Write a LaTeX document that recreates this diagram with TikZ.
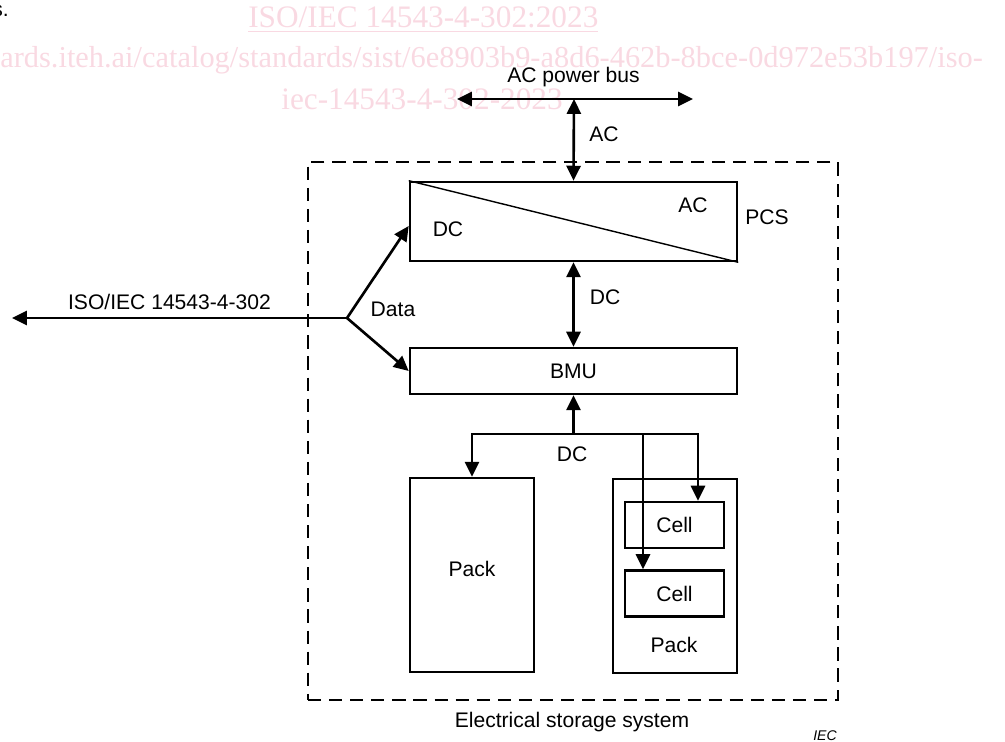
\documentclass[tikz,border=0pt]{standalone}
\usepackage{fontspec}
\setsansfont{Liberation Sans}
\newfontfamily\wmfont{Liberation Serif}
\usetikzlibrary{arrows.meta}
\definecolor{wmpink}{RGB}{249,217,226}
\tikzset{
  ess style/.style={
    >={Triangle[length=8.5pt,width=8pt]}, % arrow tip style
    line width=1.5pt,                     % default line thickness
    font=\sffamily\fontsize{12}{14}\selectfont,
  },
  box/.style={draw, rectangle, inner sep=0pt},
  lbl/.style={anchor=base, inner sep=0pt},
  wmark/.style={anchor=base, inner sep=0pt, text=wmpink, font=\wmfont\fontsize{17.8}{20}\selectfont},
}

\begin{document}
\begin{tikzpicture}[ess style, x=0.02cm, y=-0.02cm]
    \useasboundingbox (0,0) rectangle (1005,742);

    % Watermark
    \node[wmark, anchor=base west] (wma) at (247,28) {\underline{ISO/IEC 14543-4-302:2023}};
    \node[wmark, anchor=base west, font=\wmfont\fontsize{17.3}{20}\selectfont] (wmb) at (-1,68)
        {ards.iteh.ai/catalog/standards/sist/6e8903b9-a8d6-462b-8bce-0d972e53b197/iso-};
    \node[wmark, anchor=base west] (wmc) at (280,110) {iec-14543-4-302-2023};
    \node[lbl, anchor=base east] (cut) at (10,17) {s.};

    % System boundary and blocks
    \node[box, dashed, dash pattern=on 7.5pt off 4.5pt, line width=1.6pt,
          minimum width=10.6cm, minimum height=10.76cm] (ess) at (573,431) {};
    \node[box, minimum width=6.54cm, minimum height=1.58cm] (pcs) at (573.5,221.5) {};
    \draw[line width=0.8pt] (pcs.north west) -- (pcs.south east);
    \node[box, minimum width=6.54cm, minimum height=0.92cm] (bmu) at (573.5,371) {BMU};
    \node[box, minimum width=2.48cm, minimum height=3.88cm] (packa) at (472,575) {};
    \node[box, minimum width=2.48cm, minimum height=3.88cm] (packb) at (675,576) {};
    \foreach \name/\y in {cella/525, cellb/593.5}
        \node[box, minimum width=1.98cm, minimum height=0.92cm] (\name) at (674.5,\y) {Cell};

    % Labels
    \node[lbl] (busname) at (573.5,83) {AC power bus};
    \node[lbl] (aclink) at (604,142) {AC};
    \node[lbl] (pcsdc) at (448,237) {DC};
    \node[lbl] (pcsac) at (693,213) {AC};
    \node[lbl] (pcsname) at (767,225) {PCS};
    \node[lbl] (dclink) at (605,305) {DC};
    \node[lbl] (dcbus) at (572,462) {DC};
    \node[lbl] (packaname) at (472,577) {Pack};
    \node[lbl] (packbname) at (674,653) {Pack};
    \node[lbl] (dataname) at (393,317) {Data};
    \node[lbl] (stdname) at (169.5,310) {ISO/IEC 14543-4-302};
    \node[lbl] (essname) at (572,728) {Electrical storage system};
    \node[lbl, font=\sffamily\itshape\fontsize{8}{10}\selectfont] (iec) at (825,741) {IEC};

    % AC side
    \coordinate (busl) at (457,99);
    \coordinate (busr) at (693,99);
    \coordinate (bustap) at (574,99);
    \draw[<->] (busl) -- (busr);
    \draw[<->] (bustap) -- (pcs.north);

    % DC side
    \draw[<->] (pcs.south) -- (bmu.north);
    \coordinate (dc) at (573.5,434);
    \draw[->] (dc) -- (bmu.south);
    \draw[->] (dc) -| (packa.north);
    \draw[->] (dc) -| ([xshift=0.47cm]cella.north);
    \draw[->] (dc) -| ([xshift=-0.63cm]cellb.north);

    % Data
    \coordinate (data) at (347,318);
    \coordinate (ext) at (12,318);
    \draw[->] (data) -- (ext);
    \draw[->] (data) -- ([yshift=-0.09cm]pcs.west);
    \draw[->] (data) -- (bmu.west);
\end{tikzpicture}
\end{document}
